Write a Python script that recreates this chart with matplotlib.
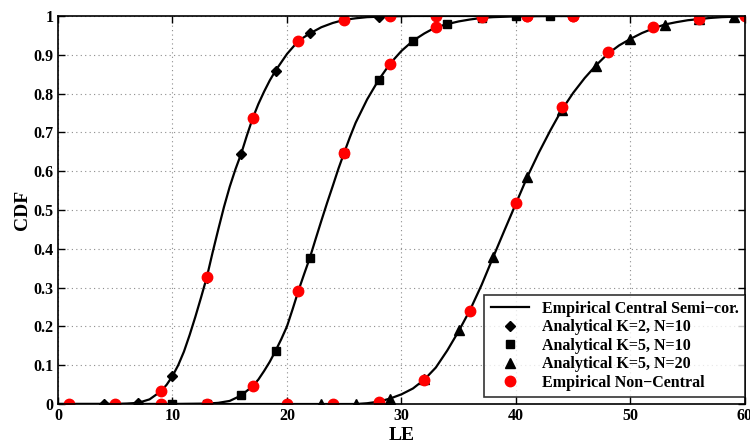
import matplotlib
matplotlib.use('Agg')
import matplotlib.pyplot as plt

# Empirical central semi-correlated CDF curves
le_1 = [0, 1, 5, 6, 7, 8, 9, 9.5, 10, 10.5, 11, 11.5, 12, 12.5, 13, 13.5,
        14, 14.5, 15, 15.5, 16, 16.5, 17, 17.5, 18, 18.5, 19, 20, 21, 22,
        23, 24, 25, 26, 27, 28, 29, 31, 33, 45]
cdf_1 = [0, 0, 0, 0.001, 0.003, 0.012, 0.033, 0.05, 0.072, 0.1, 0.135,
         0.178, 0.225, 0.275, 0.327, 0.39, 0.45, 0.508, 0.56, 0.605, 0.645,
         0.692, 0.736, 0.773, 0.805, 0.834, 0.859, 0.902, 0.936, 0.955,
         0.971, 0.982, 0.99, 0.994, 0.997, 0.998, 0.999, 1.0, 1.0, 1.0]

le_2 = [0, 10, 13, 14, 15, 16, 17, 17.5, 18, 18.5, 19, 19.5, 20, 20.5, 21,
        21.5, 22, 22.5, 23, 23.5, 24, 24.5, 25, 25.5, 26, 27, 28, 29, 30,
        31, 32, 33, 34, 35, 36, 37, 38, 40, 43, 45]
cdf_2 = [0, 0, 0.001, 0.003, 0.008, 0.022, 0.046, 0.063, 0.085, 0.109,
         0.137, 0.167, 0.2, 0.245, 0.292, 0.335, 0.377, 0.425, 0.472, 0.518,
         0.562, 0.607, 0.648, 0.688, 0.725, 0.785, 0.835, 0.877, 0.91, 0.936,
         0.955, 0.971, 0.979, 0.986, 0.991, 0.995, 0.997, 0.999, 1.0, 1.0]

le_3 = [0, 20, 26, 27, 28, 29, 30, 31, 32, 33, 34, 35, 36, 37, 38, 39, 40,
        41, 42, 43, 44, 45, 46, 47, 48, 49, 50, 51, 52, 53, 54, 55, 56, 57,
        58, 59, 60]
cdf_3 = [0, 0, 0, 0.002, 0.006, 0.014, 0.025, 0.04, 0.063, 0.094, 0.138,
         0.188, 0.243, 0.307, 0.378, 0.448, 0.517, 0.586, 0.648, 0.705,
         0.758, 0.802, 0.84, 0.873, 0.902, 0.924, 0.941, 0.956, 0.968,
         0.978, 0.984, 0.989, 0.992, 0.995, 0.997, 0.998, 1.0]

# Analytical points
k2n10_x = [1, 4, 7, 10, 13, 16, 19, 22, 25, 28]
k2n10_y = [0, 0, 0.002, 0.072, 0.325, 0.644, 0.859, 0.955, 0.99, 0.998]
k5n10_x = [10, 13, 16, 19, 22, 25, 28, 31, 34, 37, 40, 43]
k5n10_y = [0, 0.001, 0.022, 0.137, 0.377, 0.648, 0.835, 0.936, 0.979,
           0.995, 0.999, 1.0]
k5n20_x = [20, 23, 26, 29, 32, 35, 38, 41, 44, 47, 50, 53, 56, 59]
k5n20_y = [0, 0, 0.001, 0.014, 0.064, 0.19, 0.38, 0.586, 0.758, 0.872,
           0.941, 0.978, 0.992, 0.998]

# Empirical non-central points
nc1_x = [1, 5, 9, 13, 17, 21, 25, 29, 33, 37, 41, 45]
nc1_y = [0, 0, 0.033, 0.328, 0.736, 0.936, 0.99, 0.999, 1.0, 1.0, 1.0, 1.0]
nc2_x = [9, 13, 17, 21, 25, 29, 33, 37, 41, 45]
nc2_y = [0, 0, 0.046, 0.292, 0.648, 0.877, 0.971, 0.997, 1.0, 1.0]
nc3_x = [20, 24, 28, 32, 36, 40, 44, 48, 52, 56, 60]
nc3_y = [0, 0, 0.006, 0.062, 0.24, 0.517, 0.765, 0.906, 0.971, 0.992, 1.0]

plt.rcParams['font.family'] = ['Liberation Serif', 'DejaVu Serif']
plt.rcParams['font.weight'] = 'bold'

fig = plt.figure(figsize=(7.5, 4.45), dpi=100)
ax = fig.add_axes([0.0773, 0.0921, 0.916, 0.872])

ax.plot(le_1, cdf_1, '-', color='k', lw=1.6,
        label='Empirical Central Semi\u2212cor.')
ax.plot(le_2, cdf_2, '-', color='k', lw=1.6)
ax.plot(le_3, cdf_3, '-', color='k', lw=1.6)

ax.plot(k2n10_x, k2n10_y, 'D', color='k', ms=5.5, ls='none',
        label='Analytical K=2, N=10')
ax.plot(k5n10_x, k5n10_y, 's', color='k', ms=5.5, ls='none',
        label='Analytical K=5, N=10')
ax.plot(k5n20_x, k5n20_y, '^', color='k', ms=7, ls='none',
        label='Analytical K=5, N=20')

ax.plot(nc1_x, nc1_y, 'o', color='red', ms=7.5, ls='none',
        label='Empirical Non\u2212Central')
ax.plot(nc2_x, nc2_y, 'o', color='red', ms=7.5, ls='none')
ax.plot(nc3_x, nc3_y, 'o', color='red', ms=7.5, ls='none')

ax.set_xlim(0, 60)
ax.set_ylim(0, 1.0)
ax.set_xticks(range(0, 61, 10))
ax.set_yticks([i / 10 for i in range(11)])
ax.set_yticklabels(['0', '0.1', '0.2', '0.3', '0.4', '0.5', '0.6', '0.7',
                    '0.8', '0.9', '1'])
ax.tick_params(direction='in', top=True, right=True, length=5, width=1,
               labelsize=11.5, pad=3)
for lab in ax.get_xticklabels() + ax.get_yticklabels():
    lab.set_fontweight('bold')
for sp in ax.spines.values():
    sp.set_linewidth(1.2)

ax.grid(True, color='0.55', lw=0.8, ls=(0, (1, 3)))
ax.set_axisbelow(True)

ax.set_xlabel('LE', fontsize=14, fontweight='bold', labelpad=2)
ax.set_ylabel('CDF', fontsize=14, fontweight='bold', labelpad=2)

leg = ax.legend(loc='lower right', bbox_to_anchor=(1.0, 0.018),
                fontsize=11.5, frameon=True, fancybox=False,
                borderaxespad=0.0, handlelength=2.4, borderpad=0.4,
                labelspacing=0.15, handletextpad=0.8)
leg.get_frame().set_edgecolor('k')
leg.get_frame().set_linewidth(1.2)
for t in leg.get_texts():
    t.set_fontweight('bold')

fig.savefig('out.png', dpi=100)
